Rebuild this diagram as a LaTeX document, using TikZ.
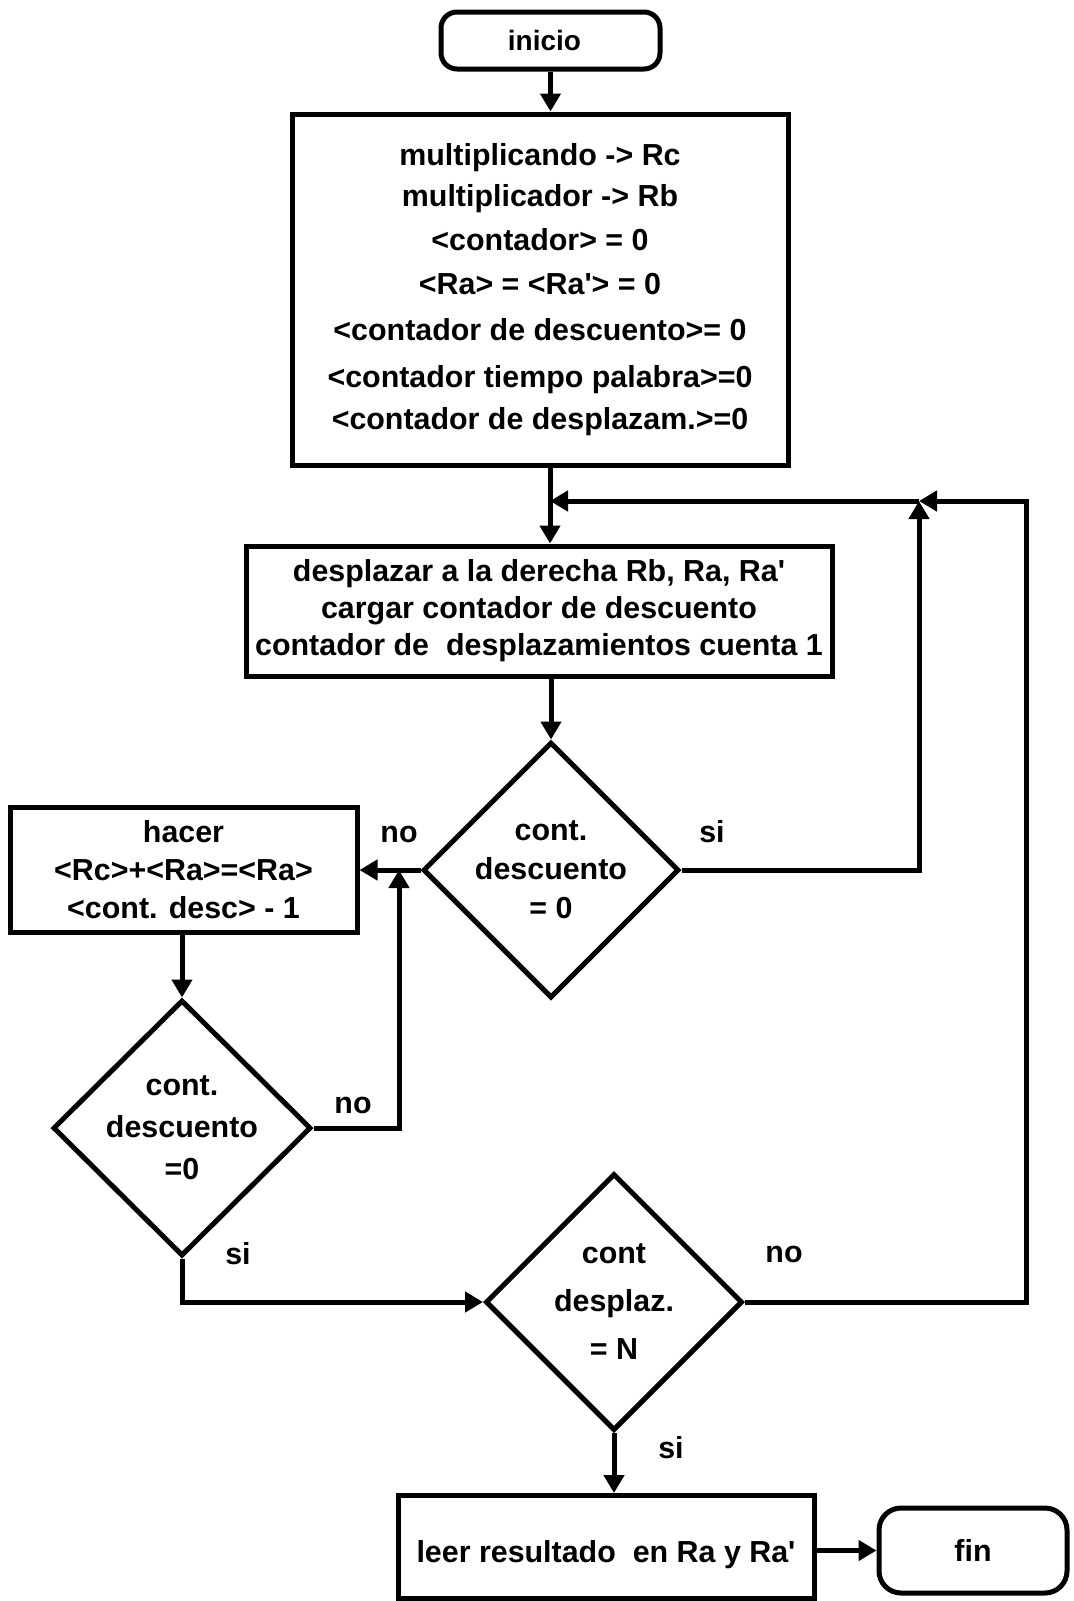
\documentclass[tikz,border=0pt]{standalone}
\usepackage{fontspec}
\setmainfont{Liberation Sans}
\usetikzlibrary{shapes.geometric,arrows.meta}
\begin{document}
\begin{tikzpicture}[x=0.5pt,y=-0.5pt,
  txt/.style={font=\bfseries\fontsize{15.2}{#1}\selectfont},
  txt/.default=18pt,
  every node/.style={txt},
  box/.style={draw, line width=2.5pt, rectangle, inner sep=0pt, align=center},
  term/.style={draw, line width=2.5pt, rectangle, rounded corners=#1, inner sep=0pt},
  dec/.style={draw, line width=2.5pt, diamond, inner sep=0pt, aspect=1},
  flow/.style={line width=2.5pt, -{Triangle[length=9pt,width=10pt]}}]
\useasboundingbox (0,0) rectangle (1073,1601);

% terminals and process boxes
\node[term=8pt, minimum width=109.5pt, minimum height=28.5pt,
      font=\bfseries\fontsize{14}{16}\selectfont] (inicio) at (550.5,40.5) {\hspace{-6pt}inicio};
\node[box, txt=22pt, minimum width=248pt, minimum height=175.5pt] (init) at (540,289.5)
  {multiplicando -> Rc\\[-1.5pt] multiplicador -> Rb\\ <contador> = 0\\
   <Ra> = <Ra\textquotesingle> = 0\\[1pt] <contador de descuento>= 0\\[1.5pt]
   <contador tiempo palabra>=0\\[-1pt] <contador de desplazam.>=0};
\node[box, txt=18.5pt, minimum width=293pt, minimum height=65pt] (shift) at (539,611)
  {desplazar a la derecha Rb, Ra, Ra\textquotesingle\\ cargar contador de descuento\\
   contador de\ \ desplazamientos cuenta 1};
\node[box, txt=19pt, minimum width=173.5pt, minimum height=62.5pt] (add) at (183.5,869.5)
  {hacer\\ <Rc>+<Ra>=<Ra>\\ <cont. desc> - 1};
\node[box, minimum width=208pt, minimum height=51.5pt] (read) at (606,1547)
  {\raisebox{-4pt}[\height][\depth]{leer resultado\ \ en Ra y Ra\textquotesingle}};
\node[term=11pt, minimum width=94pt, minimum height=42.5pt] (fin) at (973,1550.5) {fin};

% decisions
\node[dec, minimum width=128pt, minimum height=128pt,
      label={[txt=19.5pt, align=center]center:{cont.\\ descuento\\ = 0}}] (d1) at (551,870) {};
\node[dec, minimum width=129pt, minimum height=128pt,
      label={[txt=21pt, align=center]center:{cont.\\ descuento\\ =0}}] (d2) at (182,1128) {};
\node[dec, minimum width=128.5pt, minimum height=128.5pt,
      label={[txt=24pt, align=center]center:{cont\\ desplaz.\\ = N}}] (d3) at (614,1302) {};

% junction points of the loops
\coordinate (j1) at (919,501);
\coordinate (j2) at (550,501);
\coordinate (j3) at (399,870);
\coordinate (rt) at (1026,501);

% connectors
\draw[flow] (inicio.south) -- (inicio.south |- init.north);
\draw[flow] (init.south -| j2) -- (shift.north -| j2);
\draw[flow] (shift.south -| d1.north) -- (d1.north);
\draw[flow] (d1.east) -| (j1);
\draw[flow] (j1) -- (j2);
\draw[flow] (d1.west) -- (add.east |- d1.west);
\draw[flow] (add.south -| d2.north) -- (d2.north);
\draw[flow] (d2.east) -| (j3);
\draw[flow] (d2.south) |- (d3.west);
\draw[flow] (d3.east) -| (rt) -- (j1);
\draw[flow] (d3.south) -- (read.north -| d3.south);
\draw[flow] (read.east |- fin.west) -- (fin.west);

% branch labels
\node (no1) at (399,834) {no};
\node (si1) at (712,832) {si};
\node (no2) at (353,1105) {no};
\node (si2) at (238,1254) {si};
\node (no3) at (784,1254) {no};
\node (si3) at (671,1448) {si};
\end{tikzpicture}
\end{document}
